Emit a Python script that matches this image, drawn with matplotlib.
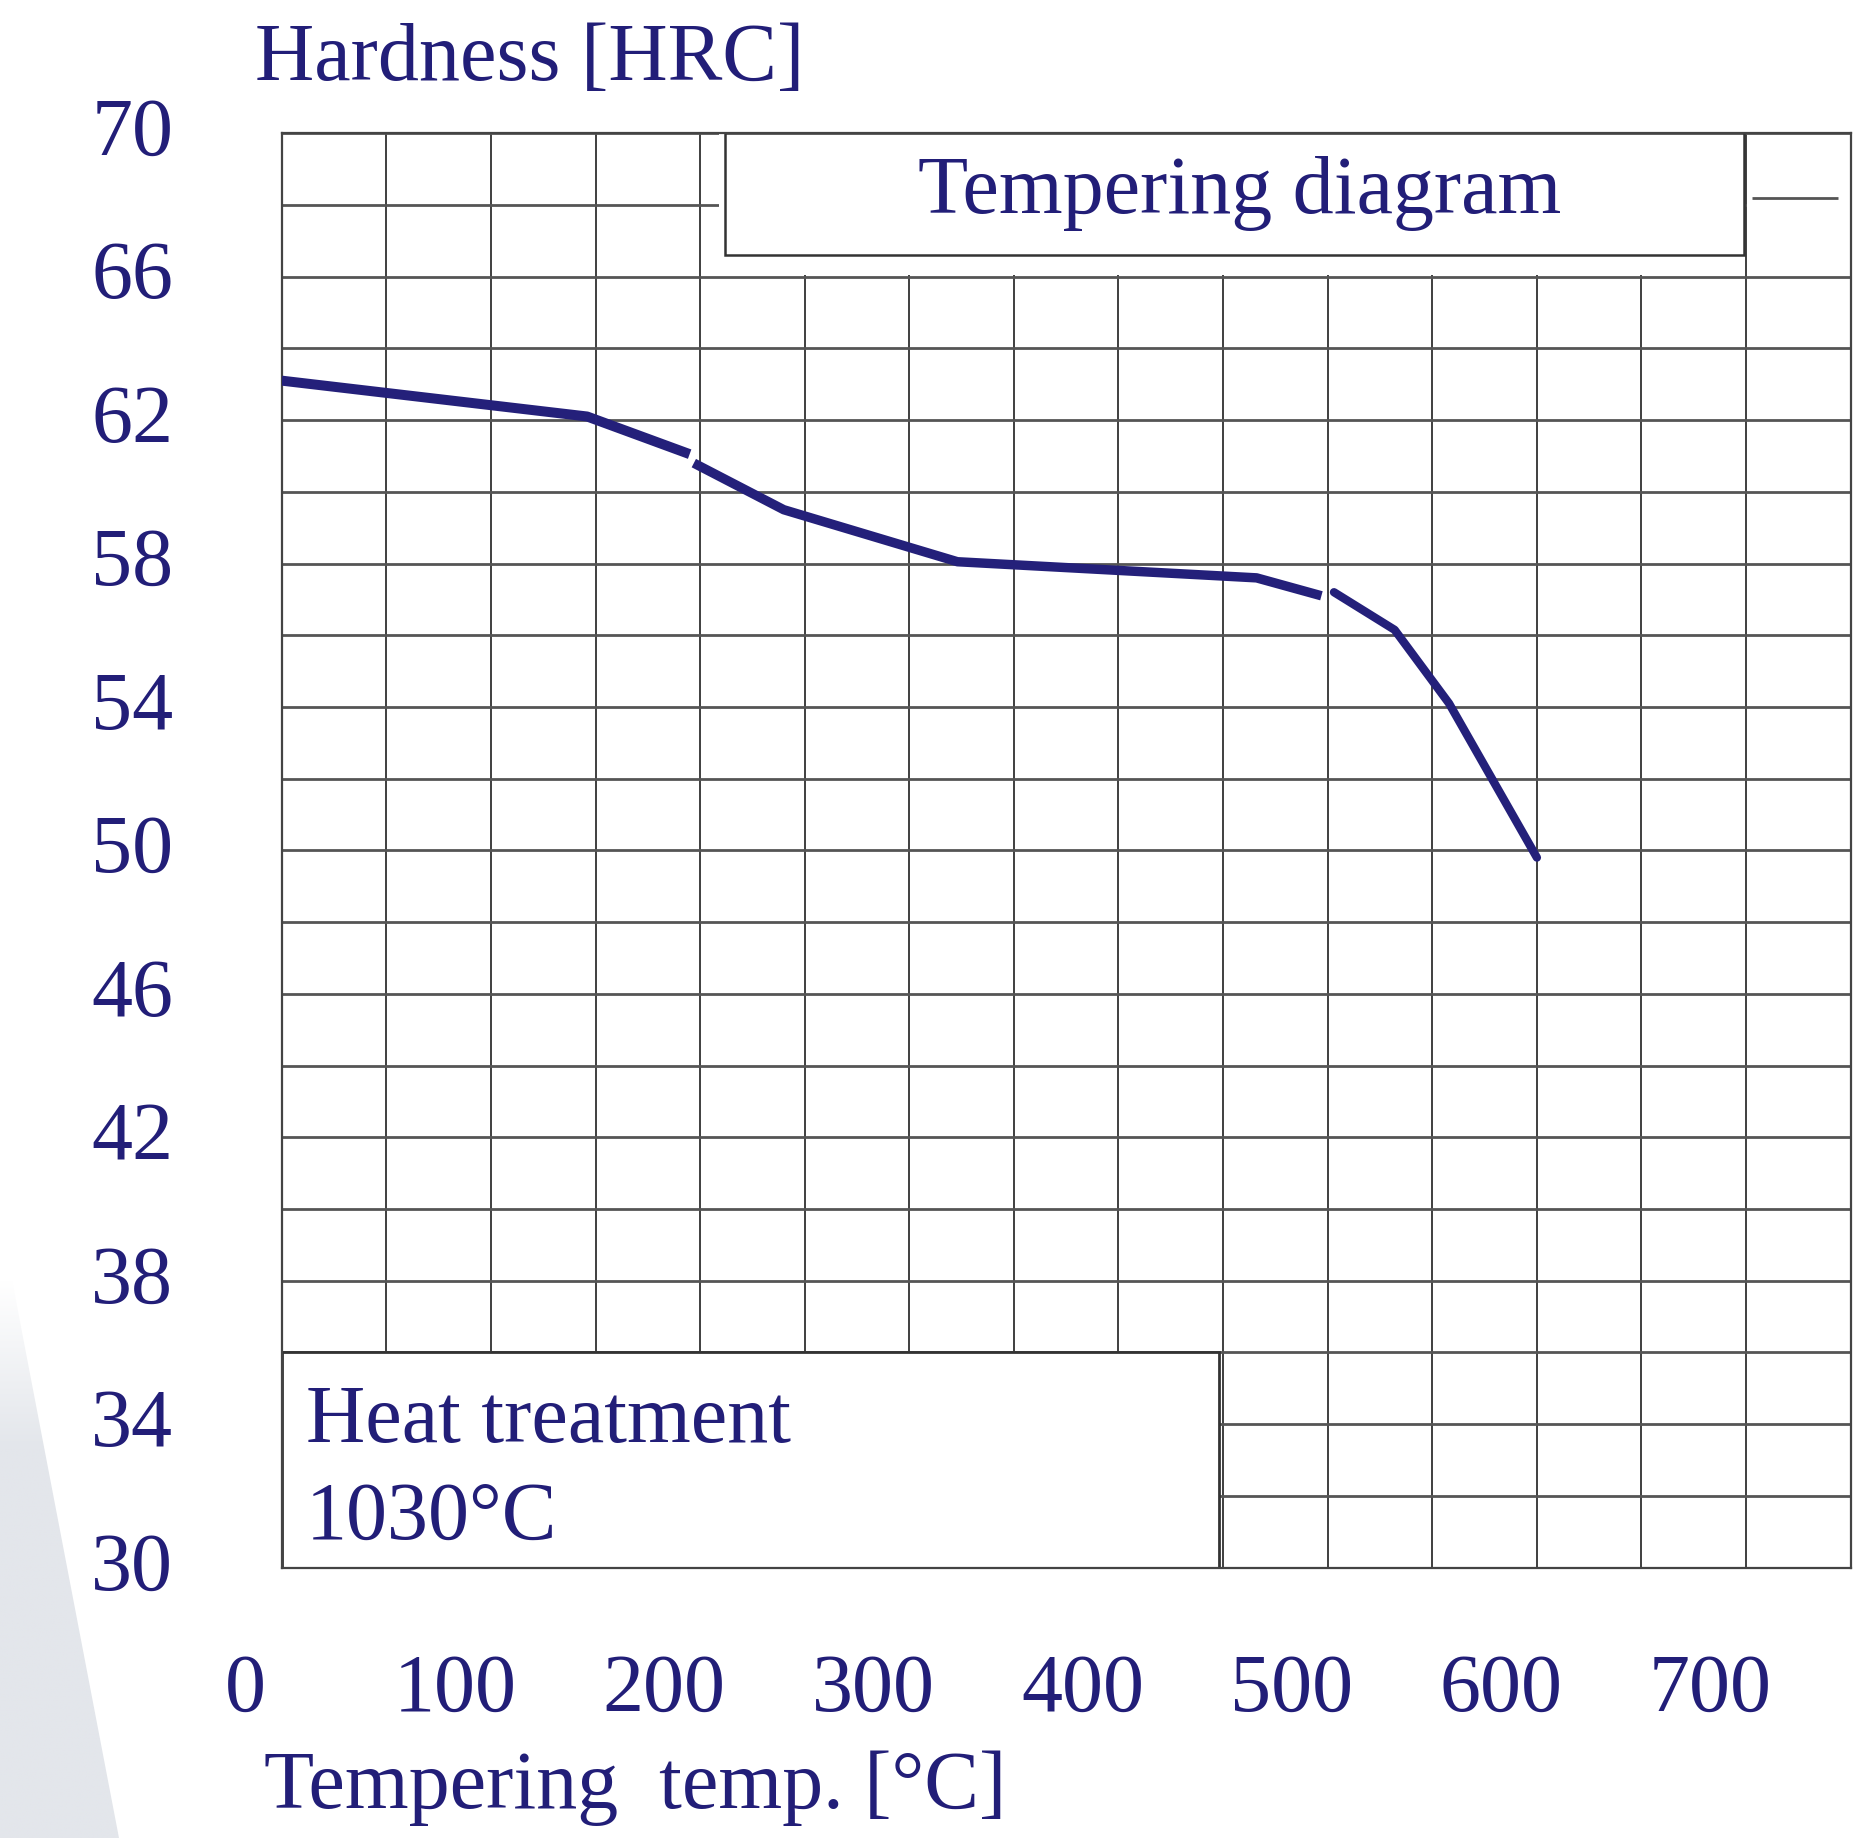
import numpy as np
import matplotlib
matplotlib.use("Agg")
import matplotlib.pyplot as plt
from matplotlib.patches import Rectangle, Polygon
from matplotlib.transforms import ScaledTranslation
from matplotlib.colors import LinearSegmentedColormap

# ---- data ----
temp_seg1 = [0, 146, 195]
hrc_seg1 = [63.1, 62.1, 61.05]
temp_seg2 = [197, 240, 323, 466, 497]
hrc_seg2 = [60.8, 59.5, 58.05, 57.6, 57.1]
temp_seg3 = [503, 532, 558, 600]
hrc_seg3 = [57.2, 56.15, 54.1, 49.8]

x_tick_values = [0, 100, 200, 300, 400, 500, 600, 700]
y_tick_values = [30, 34, 38, 42, 46, 50, 54, 58, 62, 66, 70]

title_text = "Tempering diagram"
ylabel_text = "Hardness [HRC]"
xlabel_text = "Tempering  temp. [°C]"
box_lines = ["Heat treatment", "1030°C"]

# ---- style ----
TXT = "#221e78"
LINE = "#24207a"
GRIDH = "#555555"
GRIDV = "#383838"
FONT = "Liberation Serif"
FS = 59

plt.rcParams["font.family"] = [FONT, "DejaVu Serif"]

W, H = 1865, 1838
fig = plt.figure(figsize=(W / 100, H / 100), dpi=100)
fig.patch.set_facecolor("white")

# faint grey wedge at lower-left (background decoration)
bg = fig.add_axes([0, 0, 1, 1], zorder=-5)
bg.set_xlim(0, W)
bg.set_ylim(H, 0)
bg.axis("off")
grad = np.linspace(0, 1, 256)[:, None]
grad = np.clip(grad / 0.3, 0, 1)
cmap = LinearSegmentedColormap.from_list("g", ["#ffffff", "#e3e6eb"])
im = bg.imshow(grad, extent=[0, 140, H, 1280], cmap=cmap, aspect="auto", zorder=0)
poly = Polygon([(0, 1280), (12, 1280), (119, H), (0, H)], closed=True,
               transform=bg.transData, facecolor="none", edgecolor="none")
bg.add_patch(poly)
im.set_clip_path(poly)

# main axes
left, right = 281.7, 1850.7
top, bottom = 133.2, 1567.6
ax = fig.add_axes([left / W, 1 - bottom / H, (right - left) / W, (bottom - top) / H])
ax.set_xlim(0, 750)
ax.set_ylim(30, 70)
ax.set_facecolor("white")

ax.set_xticks(x_tick_values)
ax.set_xticklabels([str(v) for v in x_tick_values])
ax.set_xticks(np.arange(50, 750, 100), minor=True)
ax.set_yticks(y_tick_values)
ax.set_yticklabels([str(v) for v in y_tick_values])
ax.set_yticks(np.arange(32, 70, 4), minor=True)

ax.set_axisbelow(True)
ax.grid(True, which="both", axis="x", color=GRIDV, lw=1.35)
ax.grid(True, which="both", axis="y", color=GRIDH, lw=2.0)
ax.tick_params(axis="both", which="both", length=0, labelsize=FS, labelcolor=TXT)
ax.tick_params(axis="y", pad=78)
ax.tick_params(axis="x", pad=62)
for sp in ax.spines.values():
    sp.set_color("#444444")
    sp.set_linewidth(1.6)

for lab in ax.get_xticklabels():
    lab.set_fontfamily(FONT)
    lab.set_transform(lab.get_transform() + ScaledTranslation(-0.36, 0, fig.dpi_scale_trans))
for lab in ax.get_yticklabels():
    lab.set_fontfamily(FONT)
    lab.set_transform(lab.get_transform() + ScaledTranslation(0, 0.07, fig.dpi_scale_trans))

# title box (masks grid in the top row)
ax.add_patch(Rectangle((209, 66.05), 490.5, 3.95, facecolor="white", edgecolor="none", zorder=1))
ax.add_patch(Rectangle((212, 66.6), 487, 3.4, facecolor="none", edgecolor="#333333", lw=1.8, zorder=2))
ax.add_patch(Rectangle((700.6, 67.55), 49.4, 0.9, facecolor="white", edgecolor="none", zorder=1))
ax.hlines(68.2, 703, 744, color=GRIDH, lw=2.0, zorder=2)
ax.text(304, 67.77, title_text, fontsize=FS, color=TXT, ha="left", va="baseline", zorder=3)

# heat-treatment box
ax.add_patch(Rectangle((0, 30), 448, 6, facecolor="white", edgecolor="#333333", lw=2.0, zorder=2))
ax.text(11.5, 33.5, box_lines[0], fontsize=FS, color=TXT, ha="left", va="baseline", zorder=3)
ax.text(11.5, 30.8, box_lines[1], fontsize=FS, color=TXT, ha="left", va="baseline", zorder=3)

# curve (three slightly offset strokes, as drawn in the original)
ax.plot(temp_seg1, hrc_seg1, color=LINE, lw=7.2, solid_capstyle="butt", solid_joinstyle="round", zorder=4)
ax.plot(temp_seg2, hrc_seg2, color=LINE, lw=6.8, solid_capstyle="butt", solid_joinstyle="round", zorder=4)
ax.plot(temp_seg3, hrc_seg3, color=LINE, lw=6.0, solid_capstyle="round", solid_joinstyle="round", zorder=4)

# axis labels
fig.text(255 / W, 1 - 80 / H, ylabel_text, fontsize=FS, color=TXT, ha="left", va="baseline")
fig.text(264 / W, 1 - 1808 / H, xlabel_text, fontsize=FS, color=TXT, ha="left", va="baseline")

fig.savefig("out.png", dpi=100, facecolor="white")
